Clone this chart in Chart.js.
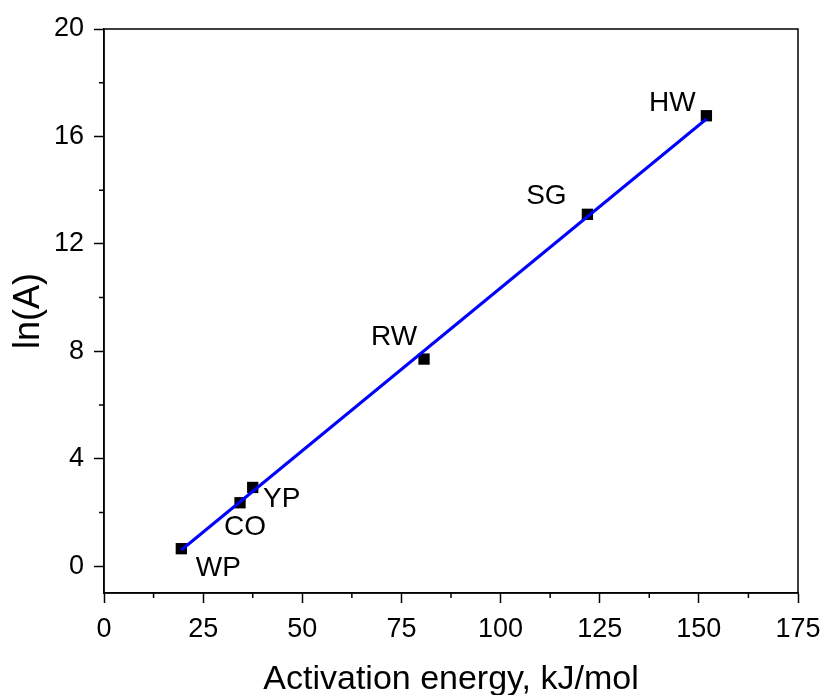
<!DOCTYPE html>
<html>
<head>
<meta charset="utf-8">
<script src="https://cdn.jsdelivr.net/npm/chart.js@4.4.1/dist/chart.umd.min.js"></script>
<style>
  html, body { margin: 0; padding: 0; background: #fff; }
  #wrap { width: 823px; height: 695px; }
</style>
</head>
<body>
<div id="wrap"><canvas id="chart" width="823" height="695"></canvas></div>
<script>
// samples and their fitted values
const samples = ['WP', 'CO', 'YP', 'RW', 'SG', 'HW'];
const activationEnergy = [19.5, 34.3, 37.5, 80.7, 121.9, 151.9];
const lnA = [0.65, 2.36, 2.93, 7.71, 13.1, 16.77];

// linear fit line (ends)
const fitX = [19.5, 151.9];
const fitY = [0.6, 16.65];

const xTicks = [0, 25, 50, 75, 100, 125, 150, 175];
const yTicks = [0, 4, 8, 12, 16, 20];
const xMinor = [12.5, 37.5, 62.5, 87.5, 112.5, 137.5, 162.5];
const yMinor = [2, 6, 10, 14, 18];

// label offsets in px from each point
const labelOffsets = {
    WP: [37, 20], CO: [5, 25], YP: [29, 12],
    RW: [-30, -22], SG: [-41, -18], HW: [-34, -12]
};

const FONT = 'Arial, "Liberation Sans", sans-serif';

const frame = {
    id: 'frame',
    afterDraw(chart) {
        const { ctx, chartArea: a, scales } = chart;
        ctx.save();
        ctx.strokeStyle = '#000';
        ctx.lineWidth = 1.5;
        ctx.strokeRect(a.left, a.top, a.right - a.left, a.bottom - a.top);

        // minor ticks
        ctx.beginPath();
        xMinor.forEach(v => {
            const px = scales.x.getPixelForValue(v);
            ctx.moveTo(px, a.bottom);
            ctx.lineTo(px, a.bottom + 5);
        });
        yMinor.forEach(v => {
            const py = scales.y.getPixelForValue(v);
            ctx.moveTo(a.left, py);
            ctx.lineTo(a.left - 5, py);
        });
        ctx.stroke();

        // sample labels
        const meta = chart.getDatasetMeta(1);
        ctx.fillStyle = '#000';
        ctx.font = '28px ' + FONT;
        ctx.textAlign = 'center';
        ctx.textBaseline = 'middle';
        meta.data.forEach((pt, i) => {
            const off = labelOffsets[samples[i]];
            ctx.fillText(samples[i], pt.x + off[0], pt.y + off[1]);
        });
        ctx.restore();
    }
};

new Chart(document.getElementById('chart'), {
    type: 'scatter',
    data: {
        datasets: [
            {
                label: 'fit',
                data: fitX.map((x, i) => ({ x: x, y: fitY[i] })),
                showLine: true,
                borderColor: '#0000ff',
                borderWidth: 3,
                pointRadius: 0,
                fill: false
            },
            {
                label: 'ln(A)',
                data: activationEnergy.map((x, i) => ({ x: x, y: lnA[i] })),
                pointStyle: 'rect',
                pointRadius: 8,
                pointBackgroundColor: '#000',
                pointBorderWidth: 0
            }
        ]
    },
    options: {
        responsive: false,
        animation: false,
        layout: { padding: { top: 29, right: 25, bottom: 0, left: 0 } },
        plugins: { legend: { display: false }, tooltip: { enabled: false } },
        scales: {
            x: {
                type: 'linear',
                min: 0,
                max: 175,
                afterBuildTicks: s => { s.ticks = xTicks.map(v => ({ value: v })); },
                afterFit: s => { s.height = 102; s.paddingLeft = 0; s.paddingRight = 0; },
                grid: { drawOnChartArea: false, tickLength: 10, tickWidth: 1.5, tickColor: '#000' },
                border: { color: '#000', width: 1.5 },
                ticks: { color: '#000', padding: 10, maxRotation: 0, font: { family: FONT, size: 27 } },
                title: {
                    display: true,
                    text: 'Activation energy, kJ/mol',
                    color: '#000',
                    font: { family: FONT, size: 34, lineHeight: 0.9 },
                    padding: { top: 0, bottom: 0 }
                }
            },
            y: {
                type: 'linear',
                min: -1,
                max: 20,
                afterBuildTicks: s => { s.ticks = yTicks.map(v => ({ value: v })); },
                afterFit: s => { s.width = 104; s.paddingTop = 0; s.paddingBottom = 0; },
                grid: { drawOnChartArea: false, tickLength: 10, tickWidth: 1.5, tickColor: '#000' },
                border: { color: '#000', width: 1.5 },
                ticks: { color: '#000', padding: 10, font: { family: FONT, size: 27 } },
                title: {
                    display: true,
                    text: 'ln(A)',
                    color: '#000',
                    font: { family: FONT, size: 36, lineHeight: 1.2 },
                    padding: { top: 7, bottom: 0 }
                }
            }
        }
    },
    plugins: [frame]
});
</script>
</body>
</html>
